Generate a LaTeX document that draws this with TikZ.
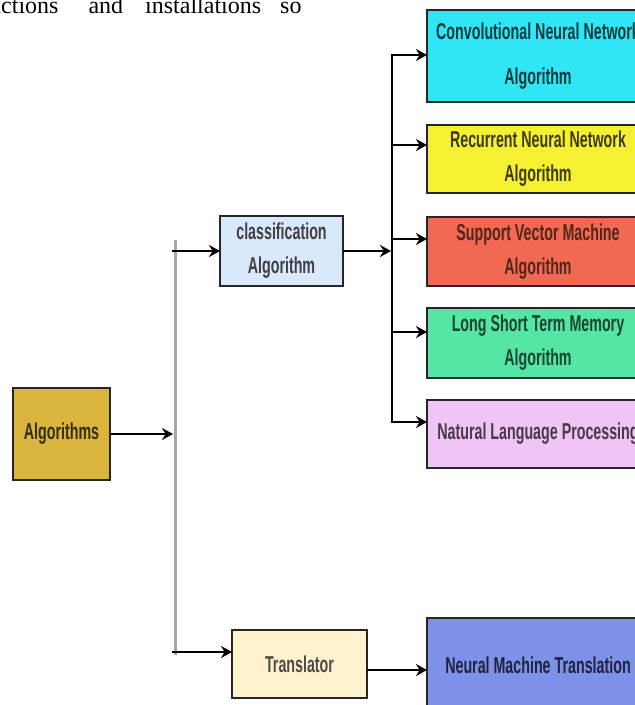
\documentclass[tikz,border=0pt]{standalone}
\usepackage{fontspec}
\setmainfont{Liberation Serif}
\newfontfamily\boxfont[FakeStretch=0.62]{Liberation Sans}
\usetikzlibrary{arrows.meta}
\definecolor{algocol}{RGB}{217,181,62}
\definecolor{clscol}{RGB}{218,232,252}
\definecolor{cnncol}{RGB}{48,230,245}
\definecolor{rnncol}{RGB}{245,240,50}
\definecolor{svmcol}{RGB}{240,105,80}
\definecolor{lstmcol}{RGB}{85,230,165}
\definecolor{nlpcol}{RGB}{240,196,245}
\definecolor{transcol}{RGB}{255,242,204}
\definecolor{nmtcol}{RGB}{125,145,235}
\tikzstyle{box} = [draw=black!85,line width=1.5pt,anchor=north west,inner sep=0pt,outer sep=0pt,align=center,font=\boxfont\bfseries\fontsize{23}{34}\selectfont]
\tikzstyle{arrow} = [line width=2pt,-{Stealth[length=11pt,width=12pt]}]
\tikzstyle{trunk} = [line width=3pt,draw=black!35]

\begin{document}
\begin{tikzpicture}[x=1pt,y=-1pt]
  \useasboundingbox (0,0) rectangle (635,705);
  \clip (0,0) rectangle (635,705);
  \node[anchor=base west,inner sep=0pt,font=\fontsize{24}{28}\selectfont] (frag) at (-11,13)
    {nctions\hspace{30pt}and\hspace{22pt}installations\hspace{19pt}so};
  \node[box,fill=algocol,text=algocol!25!black,minimum width=97pt,minimum height=92pt] (algo) at (13,388) {Algorithms};
  \node[box,fill=clscol,text=black!75,minimum width=123pt,minimum height=70pt] (cls) at (220,216) {classification\\Algorithm};
  \node[box,fill=transcol,text=black!70,minimum width=135pt,minimum height=68pt] (trans) at (232,630) {Translator};
  \node[box,fill=cnncol,text=cnncol!25!black,minimum width=222pt,minimum height=92pt] (cnn) at (427,10) {Convolutional Neural Network\\[11pt]Algorithm};
  \node[box,fill=rnncol,text=rnncol!25!black,minimum width=222pt,minimum height=68pt] (rnn) at (427,125) {Recurrent Neural Network\\Algorithm};
  \node[box,fill=svmcol,text=svmcol!35!black,minimum width=222pt,minimum height=69pt] (svm) at (427,217) {Support Vector Machine\\Algorithm};
  \node[box,fill=lstmcol,text=lstmcol!30!black,minimum width=222pt,minimum height=70pt] (lstm) at (427,308) {Long Short Term Memory\\Algorithm};
  \node[box,fill=nlpcol,text=nlpcol!30!black,minimum width=222pt,minimum height=68pt] (nlp) at (427,400) {Natural Language Processing};
  \node[box,fill=nmtcol,text=nmtcol!25!black,minimum width=222pt,minimum height=94pt] (nmt) at (427,618) {Neural Machine Translation};
  \coordinate (gtop) at (175,240);
  \coordinate (gbot) at (175,655);
  \coordinate (gtr) at (172,652);
  \coordinate (btop) at (392,54);
  \coordinate (bbot) at (392,423);
  \coordinate (tn) at (367,670);
  \draw[trunk] (gtop) -- (gbot);
  \draw[line width=2pt] (btop) -- (bbot);
  \draw[arrow] (algo.east) -- ([xshift=-2pt]algo.east -| gtop);
  \draw[arrow] ([xshift=-3pt]cls.west -| gtop) -- (cls.west);
  \draw[arrow] (gtr) -- (gtr -| trans.west);
  \draw[arrow] (cls.east) -- ([xshift=-1pt]cls.east -| btop);
  \draw[arrow] (tn) -- (tn -| nmt.west);
  \foreach \n/\y in {cnn/55,rnn/145,svm/239,lstm/332,nlp/422}
    \draw[arrow] (btop |- 0,\y) -- (\n.west |- 0,\y);
\end{tikzpicture}
\end{document}
